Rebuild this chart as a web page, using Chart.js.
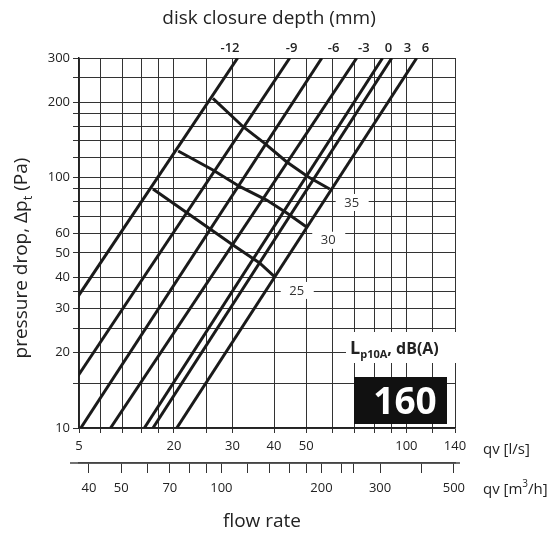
<!DOCTYPE html>
<html>
<head>
<meta charset="utf-8">
<script src="https://cdn.jsdelivr.net/npm/chart.js@4.4.1/dist/chart.umd.min.js"></script>
<style>
  html, body { margin: 0; padding: 0; background: #fff; }
  #wrap { width: 551px; height: 533px; }
</style>
</head>
<body>
<div id="wrap"><canvas id="chart" width="551" height="533"></canvas></div>
<script>
// flow axis (l/s), left edge sits a bit above 10 l/s but is labelled "5" in the original
const flowMin = 10.37
const flowMax = 140
const flowGrid = [10.37, 12, 14, 16, 18, 20, 25, 30, 40, 50, 60, 70, 80, 90, 100, 120, 140]
const flowGridLabels = ['5', '', '', '', '', '20', '', '30', '40', '50', '', '', '', '', '100', '', '140']

// second flow axis (m3/h)
const m3hGrid = [40, 50, 60, 70, 80, 90, 100, 120, 140, 160, 180, 200, 230, 250, 300, 400, 500]
const m3hLabels = ['40', '50', '', '70', '', '', '100', '', '', '', '', '200', '', '', '300', '', '500']

// pressure axis (Pa)
const pressureGrid = [10, 15, 20, 25, 30, 35, 40, 50, 60, 70, 80, 90, 100, 120, 140, 160, 180, 200, 250, 300]
const pressureLabels = ['10', '', '20', '', '30', '', '40', '50', '60', '', '', '', '100', '', '', '', '', '200', '', '300']

// disk closure depth lines: flow at 10 Pa and at 300 Pa
const depthLabels = ['-12', '-9', '-6', '-3', '0', '3', '6']
const depthFlowAt10Pa = [5.6, 8.1, 10.5, 12.9, 16.3, 17.3, 20.4]
const depthFlowAt300Pa = [31.1, 44.6, 55.7, 70.9, 84.8, 90.4, 107.4]
const depthLabelFlow = [29.5, 45.2, 60.4, 74.5, 88.4, 100.7, 114.2]

// sound level lines Lp10A
const noiseLevels = ['25', '30', '35']
const noiseFlow = [
  [17.3, 25.7, 30.1, 36.2, 40.2],
  [20.6, 26.2, 31.6, 38.0, 43.7, 50.0],
  [26.2, 32.3, 37.5, 43.6, 50.6, 58.8]
]
const noisePressure = [
  [90.0, 62.3, 53.8, 45.6, 40.1],
  [127.6, 107.1, 91.9, 81.3, 72.2, 63.6],
  [207, 159.5, 136.9, 115.6, 100.7, 90.0]
]

const sizeLabel = '160'

Chart.defaults.font.family = '"Open Sans", "DejaVu Sans", sans-serif'
Chart.defaults.color = '#222'

const lineStyle = {
  showLine: true,
  borderColor: '#1a1a1a',
  borderWidth: 3,
  pointRadius: 0,
  tension: 0,
  clip: 0
}

const datasets = []
depthLabels.forEach((d, i) => {
  datasets.push({
    ...lineStyle,
    label: d,
    data: [
      { x: depthFlowAt10Pa[i], y: 10 },
      { x: depthFlowAt300Pa[i], y: 300 }
    ]
  })
})
noiseLevels.forEach((n, i) => {
  datasets.push({
    ...lineStyle,
    label: n + ' dB',
    data: noiseFlow[i].map((q, j) => ({ x: q, y: noisePressure[i][j] }))
  })
})

function drawText(ctx, txt, x, y, font, align, color) {
  ctx.font = font
  ctx.textAlign = align || 'left'
  ctx.textBaseline = 'alphabetic'
  ctx.fillStyle = color || '#222'
  ctx.fillText(txt, x, y)
  return ctx.measureText(txt).width
}

const fam = '"Open Sans", "DejaVu Sans", sans-serif'

const textPlugin = {
  id: 'texts',
  afterDatasetsDraw(chart) {
    const { ctx, chartArea, scales } = chart
    const x = scales.x
    const y = scales.y
    ctx.save()

    // noise level labels on white boxes, just past each line end
    noiseLevels.forEach((lvl, i) => {
      const n = noiseFlow[i].length - 1
      const px = x.getPixelForValue(noiseFlow[i][n]) + 22
      const py = y.getPixelForValue(noisePressure[i][n]) + 13
      ctx.fillStyle = '#fff'
      ctx.fillRect(px - 16, py - 8, 33, 17)
      ctx.fillStyle = '#333'
      ctx.font = '13px ' + fam
      ctx.textAlign = 'center'
      ctx.textBaseline = 'middle'
      ctx.fillText(lvl, px, py + 1)
    })

    // Lp10A legend
    const lx = chartArea.right - 105
    const ly = chartArea.bottom - 74
    ctx.fillStyle = '#fff'
    ctx.fillRect(lx - 4, ly - 22, 116, 31)
    let cx = lx
    cx += drawText(ctx, 'L', cx, ly, 'bold 18px ' + fam)
    cx += drawText(ctx, 'p10A', cx, ly + 4, 'bold 11px ' + fam)
    drawText(ctx, ', dB(A)', cx, ly, 'bold 16px ' + fam)

    // size box
    const bx = chartArea.right - 101
    const by = chartArea.bottom - 51
    ctx.fillStyle = '#111'
    ctx.fillRect(bx, by, 93, 47)
    drawText(ctx, sizeLabel, bx + 51, by + 37, 'bold 37px ' + fam, 'center', '#fff')
    ctx.restore()
  },
  afterDraw(chart) {
    const { ctx, chartArea, scales } = chart
    const x = scales.x
    const x2 = scales.x2
    ctx.save()

    // the m3/h axis line runs a little past the plot on both sides
    ctx.strokeStyle = '#444'
    ctx.lineWidth = 1.5
    ctx.beginPath()
    ctx.moveTo(chartArea.left - 9, x2.top)
    ctx.lineTo(chartArea.right + 5, x2.top)
    ctx.stroke()

    // title
    drawText(ctx, 'disk closure depth (mm)', (chartArea.left + chartArea.right) / 2 + 2, 24, '19px ' + fam, 'center')

    // depth labels above the plot
    depthLabels.forEach((d, i) => {
      drawText(ctx, d, x.getPixelForValue(depthLabelFlow[i]), chartArea.top - 6, '600 13px ' + fam, 'center')
    })

    // axis unit labels
    const ux = chartArea.right + 28
    drawText(ctx, 'qv [l/s]', ux, 454, '15px ' + fam)
    let w = drawText(ctx, 'qv [m', ux, 494, '15px ' + fam)
    w += drawText(ctx, '3', ux + w, 487, '10px ' + fam)
    drawText(ctx, '/h]', ux + w, 494, '15px ' + fam)

    drawText(ctx, 'flow rate', 262, 527, '19px ' + fam, 'center')

    // y title with subscript
    ctx.translate(27, 258)
    ctx.rotate(-Math.PI / 2)
    ctx.font = '19px ' + fam
    const a = 'pressure drop, \u0394p'
    const b = ' (Pa)'
    const wa = ctx.measureText(a).width
    const wb = ctx.measureText(b).width
    ctx.font = '13px ' + fam
    const wt = ctx.measureText('t').width
    const sx = -(wa + wt + wb) / 2
    drawText(ctx, a, sx, 0, '19px ' + fam)
    drawText(ctx, 't', sx + wa, 5, '13px ' + fam)
    drawText(ctx, b, sx + wa + wt, 0, '19px ' + fam)
    ctx.restore()
  }
}

new Chart(document.getElementById('chart'), {
  type: 'scatter',
  data: { datasets },
  options: {
    responsive: false,
    animation: false,
    devicePixelRatio: 1,
    layout: { padding: { top: 58, right: 96, left: 0, bottom: 28 } },
    plugins: { legend: { display: false }, tooltip: { enabled: false } },
    scales: {
      x: {
        type: 'logarithmic',
        position: 'bottom',
        min: flowMin,
        max: flowMax,
        bounds: 'data',
        afterBuildTicks: s => { s.ticks = flowGrid.map(v => ({ value: v })) },
        afterFit: s => { s.height = 35 },
        ticks: {
          autoSkip: false,
          maxRotation: 0,
          padding: 5,
          font: { size: 13 },
          callback: (v, i) => flowGridLabels[i]
        },
        grid: { color: '#333', lineWidth: 1, tickLength: 5, tickColor: '#333' },
        border: { color: '#222', width: 1.5 }
      },
      x2: {
        type: 'logarithmic',
        position: 'bottom',
        min: flowMin * 3.6,
        max: flowMax * 3.6,
        bounds: 'data',
        afterBuildTicks: s => { s.ticks = m3hGrid.map(v => ({ value: v })) },
        afterFit: s => { s.height = 42 },
        ticks: {
          autoSkip: false,
          maxRotation: 0,
          padding: 7,
          font: { size: 13 },
          callback: (v, i) => m3hLabels[i]
        },
        grid: { drawOnChartArea: false, tickLength: 10, color: '#333', tickColor: '#333' },
        border: { color: '#444', width: 1.5 }
      },
      y: {
        type: 'logarithmic',
        min: 10,
        max: 300,
        bounds: 'data',
        afterBuildTicks: s => { s.ticks = pressureGrid.map(v => ({ value: v })) },
        afterFit: s => { s.width = 79 },
        ticks: {
          autoSkip: false,
          padding: 3,
          font: { size: 13 },
          callback: (v, i) => pressureLabels[i]
        },
        grid: { color: '#333', lineWidth: 1, tickLength: 6, tickColor: '#333' },
        border: { color: '#222', width: 1.5 }
      }
    }
  },
  plugins: [textPlugin]
})
</script>
</body>
</html>
